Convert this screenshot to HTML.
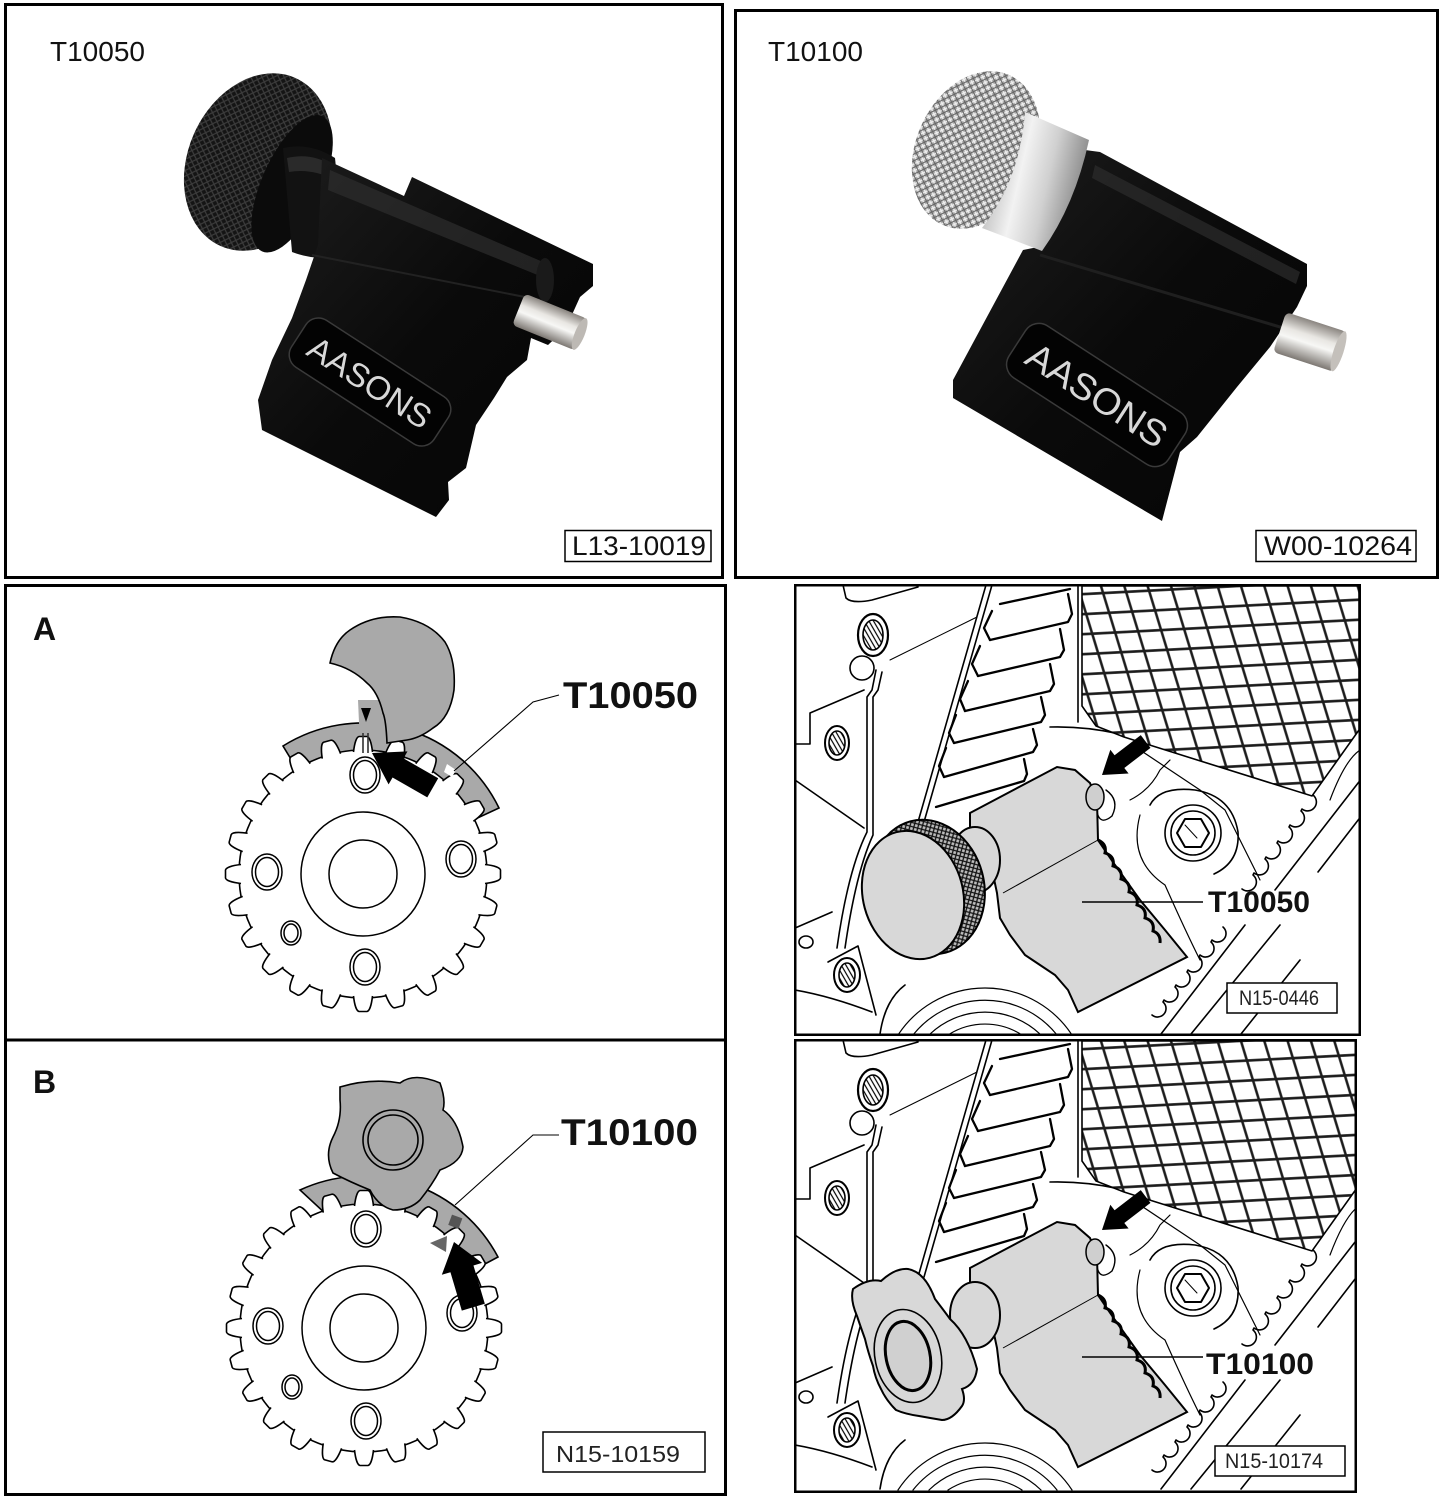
<!DOCTYPE html>
<html>
<head>
<meta charset="utf-8">
<style>
html,body{margin:0;padding:0;background:#fff;width:1443px;height:1500px;overflow:hidden;}
svg{display:block;}
text{font-family:"Liberation Sans",Arial,sans-serif;}
</style>
</head>
<body>
<svg width="1443" height="1500" viewBox="0 0 1443 1500" xmlns="http://www.w3.org/2000/svg">
<defs>
  <pattern id="mesh" width="23" height="20" patternUnits="userSpaceOnUse" patternTransform="rotate(-3) skewX(14)">
    <rect width="23" height="20" fill="#fff"/>
    <path d="M0,10H23M11.5,0V20" stroke="#1c1c1c" stroke-width="2.6" fill="none"/>
  </pattern>
  <pattern id="knurlB" width="5" height="5" patternUnits="userSpaceOnUse" patternTransform="rotate(40)">
    <rect width="5" height="5" fill="#141414"/>
    <path d="M0,2.5H5M2.5,0V5" stroke="#3c3c3c" stroke-width="1.2"/>
  </pattern>
  <pattern id="knurlS" width="6" height="6" patternUnits="userSpaceOnUse" patternTransform="rotate(40)">
    <rect width="6" height="6" fill="#a8a8a8"/>
    <path d="M0,1.5H6M1.5,0V6" stroke="#eeeeee" stroke-width="1.4"/>
    <path d="M0,4.5H6M4.5,0V6" stroke="#666" stroke-width="1.1"/>
  </pattern>
  <pattern id="knurlD" width="4" height="4" patternUnits="userSpaceOnUse" patternTransform="rotate(30)">
    <rect width="4" height="4" fill="#bdbdbd"/>
    <path d="M0,2H4M2,0V4" stroke="#111" stroke-width="1.3"/>
  </pattern>
  <pattern id="hatch" width="4" height="4" patternUnits="userSpaceOnUse" patternTransform="rotate(60)">
    <rect width="4" height="4" fill="#fff"/>
    <path d="M0,2H4" stroke="#000" stroke-width="1.2"/>
  </pattern>
  <linearGradient id="silverV" x1="0" y1="0" x2="0" y2="1">
    <stop offset="0" stop-color="#8a8580"/>
    <stop offset="0.35" stop-color="#e8e6e2"/>
    <stop offset="0.55" stop-color="#f7f7f5"/>
    <stop offset="1" stop-color="#7d7873"/>
  </linearGradient>
  <linearGradient id="ringG" x1="0" y1="0" x2="1" y2="0.3">
    <stop offset="0" stop-color="#9a9a9a"/>
    <stop offset="0.45" stop-color="#f2f2f2"/>
    <stop offset="0.7" stop-color="#d0d0d0"/>
    <stop offset="1" stop-color="#8c8c8c"/>
  </linearGradient>
  <linearGradient id="blkG" x1="0" y1="0" x2="1" y2="1">
    <stop offset="0" stop-color="#1e1e1e"/>
    <stop offset="0.5" stop-color="#0a0a0a"/>
    <stop offset="1" stop-color="#050505"/>
  </linearGradient>

  <path id="tooth" d="M-9.5,-122 C-8.5,-131 -6.5,-137 -4,-137.5 L4,-137.5 C6.5,-137 8.5,-131 9.5,-122" fill="#fff" stroke="#000" stroke-width="1.6"/>
  <g id="teeth6">
    <use href="#tooth"/>
    <use href="#tooth" transform="rotate(15)"/>
    <use href="#tooth" transform="rotate(30)"/>
    <use href="#tooth" transform="rotate(45)"/>
    <use href="#tooth" transform="rotate(60)"/>
    <use href="#tooth" transform="rotate(75)"/>
  </g>
  <g id="gear">
    <circle r="124" fill="#fff" stroke="#000" stroke-width="1.6"/>
    <use href="#teeth6"/>
    <use href="#teeth6" transform="rotate(90)"/>
    <use href="#teeth6" transform="rotate(180)"/>
    <use href="#teeth6" transform="rotate(270)"/>
    <g fill="none" stroke="#000" stroke-width="1.5">
      <circle r="62"/>
      <ellipse rx="34" ry="34"/>
      <ellipse cx="2" cy="-99" rx="15" ry="18"/><ellipse cx="2" cy="-99" rx="11.5" ry="14.5"/>
      <ellipse cx="-96" cy="-2" rx="15" ry="18"/><ellipse cx="-96" cy="-2" rx="11.5" ry="14.5"/>
      <ellipse cx="98" cy="-15" rx="15" ry="18"/><ellipse cx="98" cy="-15" rx="11.5" ry="14.5"/>
      <ellipse cx="-72" cy="59" rx="10" ry="12"/><ellipse cx="-72" cy="59" rx="7" ry="9"/>
      <ellipse cx="2" cy="93" rx="15" ry="18"/><ellipse cx="2" cy="93" rx="11.5" ry="14.5"/>
    </g>
  </g>

  <clipPath id="cp1"><rect x="796" y="586" width="563" height="448"/></clipPath>
  <clipPath id="cp2"><rect x="796" y="1041" width="559" height="450"/></clipPath>

  <g id="eng">
    <g fill="none" stroke="#000" stroke-width="1.6" stroke-linejoin="round" stroke-linecap="round">
      <g stroke-width="1.2">
        <path d="M948,1035 A68,68 0 0,1 1022,1035"/>
        <path d="M929,1035 A80,80 0 0,1 1041,1035"/>
        <path d="M913,1035 A92,92 0 0,1 1057,1035"/>
        <path d="M898,1035 A104,104 0 0,1 1072,1035"/>
      </g>
      <path d="M843,585 L846,598 Q852,604 872,600 L918,587"/>
      <ellipse cx="873" cy="635" rx="15" ry="21" stroke-width="2.2"/>
      <ellipse cx="873" cy="635" rx="10" ry="15" fill="url(#hatch)"/>
      <circle cx="862" cy="668" r="12"/>
      <path d="M890,660 L977,617" stroke-width="1"/>
      <path d="M876,670 L872,690 L867,697 L867,832 Q848,870 837,948"/>
      <path d="M882,672 L878,690 L873,697 L873,835 Q856,872 845,948"/>
      <path d="M795,744 L810,744 L810,713 L864,690"/>
      <path d="M795,780 L864,828"/>
      <ellipse cx="837" cy="743" rx="12" ry="17" stroke-width="2"/>
      <ellipse cx="837" cy="743" rx="8" ry="12" fill="url(#hatch)"/>
      <path d="M795,928 L832,912"/>
      <ellipse cx="806" cy="942" rx="7" ry="6"/>
      <ellipse cx="847" cy="975" rx="13" ry="17" stroke-width="2"/>
      <ellipse cx="847" cy="975" rx="8" ry="12" fill="url(#hatch)"/>
      <path d="M828,962 L858,946 L876,1015"/>
      <path d="M795,990 Q830,996 872,1012"/>
      <path d="M880,1034 Q885,1000 905,985"/>
      <path d="M992,585 L924,822"/>
      <path d="M986,585 L918,822"/>
      <g stroke-width="2.3">
        <path d="M1000,604 L1070,589"/>
        <path d="M990,640 L1068,622 L1072,614 L1068,594"/>
        <path d="M978,676 L1060,657 L1064,650 L1060,629"/>
        <path d="M965,711 L1050,691 L1054,684 L1050,664"/>
        <path d="M954,743 L1041,722 L1045,715 L1041,697"/>
        <path d="M944,777 L1033,752 L1037,745 L1033,729"/>
        <path d="M936,807 L1024,781 L1027,774 L1024,759"/>
        <path d="M990,640 L984,628 L992,611"/>
        <path d="M978,676 L972,664 L980,646"/>
        <path d="M965,711 L960,699 L968,681"/>
        <path d="M954,743 L949,733 L956,715"/>
        <path d="M944,777 L939,766 L946,748"/>
      </g>
      <path d="M1078,585 L1078,722"/>
      <path d="M1050,727 Q1085,726 1120,734"/>
      <path d="M1313,795 a7,7 0 0,1 -11,14 l-1,2 a7,7 0 0,1 -11,14 l-1,2 a7,7 0 0,1 -11,14 l-1,2 a7,7 0 0,1 -11,14 l-1,2 a7,7 0 0,1 -11,14 l-1,2 a7,7 0 0,1 -11,14"/>
      <path d="M1223,927 a7,7 0 0,1 -11,13 l-1,2 a7,7 0 0,1 -11,13 l-1,2 a7,7 0 0,1 -11,13 l-1,2 a7,7 0 0,1 -11,13 l-1,2 a7,7 0 0,1 -11,13 l-1,2 a7,7 0 0,1 -11,13"/>
      <path d="M1362,778 L1275,890"/>
      <path d="M1362,815 L1318,872"/>
      <path d="M1280,925 L1191,1034"/>
      <path d="M1300,960 L1241,1034"/>
      <path d="M1245,925 L1161,1034"/>
      <path d="M1150,805 Q1160,786 1195,790 Q1232,796 1238,832 Q1240,862 1214,874"/>
      <path d="M1140,815 Q1128,860 1165,885 Q1185,930 1200,960" stroke-width="1.2"/>
      <path d="M1130,800 Q1150,790 1160,770 L1170,760" stroke-width="1.2"/>
      <path d="M1140,750 L1200,790 L1225,810 L1260,880" stroke-width="1.2"/>
      <path d="M1330,800 Q1345,760 1360,750" stroke-width="1.2"/>
      <circle cx="1193" cy="833" r="28"/>
      <circle cx="1193" cy="833" r="22"/>
      <polygon points="1209,833 1201,847 1185,847 1177,833 1185,819 1201,819" stroke-width="2"/>
      <path d="M1185,825 L1197,838" stroke-width="1"/>
      <path d="M1106,790 Q1120,800 1112,816 Q1100,826 1097,812" stroke-width="1.4"/>
    </g>
    <polygon points="1082,586 1359,586 1359,730 1312,796 1124,737 1096,726 1082,706" fill="url(#mesh)" stroke="#000" stroke-width="1.6"/>
    <path d="M970,813 L1057,767 L1075,770 L1090,783 L1097,800 L1098,840 L1115,865 L1140,900 L1165,930 L1187,957 L1078,1012 L1068,990 L1055,975 L1040,965 L1025,955 L1010,935 L1000,918 L997,893 L990,860 L970,835 Z" fill="#d8d8d8" stroke="#000" stroke-width="2"/>
    <path d="M1098,840 q9,4 7,13 q10,3 8,13 q10,3 8,13 q10,3 8,13 q10,3 8,13 q10,3 8,13 q10,3 8,13 q8,3 7,12" fill="none" stroke="#000" stroke-width="3"/>
    <path d="M1003,893 L1098,840" stroke="#000" stroke-width="1" fill="none"/>
    <ellipse cx="975" cy="860" rx="25" ry="33" fill="#d8d8d8" stroke="#000" stroke-width="2"/>
    <ellipse cx="1095" cy="797" rx="9" ry="13" fill="#cfcfcf" stroke="#000" stroke-width="1.5"/>
    <polygon transform="translate(1102,775) rotate(-37.5)" points="0,0 22,-15 22,-8 55,-8 55,8 22,8 22,15" fill="#000"/>
    <path d="M1082,902 L1203,902" stroke="#000" stroke-width="1.6"/>
  </g>
</defs>

<!-- ===== TOP LEFT PHOTO PANEL ===== -->
<rect x="5.5" y="4.5" width="717" height="573" fill="#fff" stroke="#000" stroke-width="3"/>
<text x="50" y="61" font-size="28" fill="#111">T10050</text>
<g transform="rotate(24 258 162)">
  <ellipse cx="258" cy="162" rx="70" ry="92" fill="url(#knurlB)"/>
  <ellipse cx="298" cy="168" rx="30" ry="74" fill="#0b0b0b"/>
</g>
<path d="M283,148 Q310,142 335,158 L345,255 Q318,262 292,252 Z" fill="#121212"/>
<path d="M287,158 Q312,152 333,166 L335,180 Q312,168 289,172 Z" fill="#2a2a2a"/>
<path d="M322,158 L404,196 L412,177 L593,264 L593,286 L580,297 L566,328 L548,345 L531,338 L527,360 L507,377 L494,398 L476,425 L466,468 L448,482 L449,500 L436,517 L262,430 L258,400 L272,360 L292,318 L306,280 L318,245 Z" fill="url(#blkG)"/>
<path d="M330,170 L543,262 L540,276 L328,190 Z" fill="#2e2e2e" opacity="0.7"/>
<path d="M312,255 L540,300" stroke="#222" stroke-width="2" fill="none"/>
<ellipse cx="545" cy="280" rx="9" ry="22" fill="#1a1a1a"/>
<g transform="translate(550,322) rotate(22)">
  <rect x="-34" y="-17" width="68" height="34" rx="5" fill="url(#silverV)"/>
  <ellipse cx="32" cy="0" rx="5" ry="17" fill="#bdb9b4"/>
</g>
<g transform="translate(370,382) rotate(33)">
  <rect x="-85" y="-28" width="170" height="56" rx="15" fill="#030303" stroke="#3a3a3a" stroke-width="1.5"/>
  <text x="0" y="12" font-size="33" fill="#d8d8d8" text-anchor="middle" textLength="140" lengthAdjust="spacingAndGlyphs">AASONS</text>
</g>
<rect x="565" y="530.5" width="146" height="31" fill="#fff" stroke="#000" stroke-width="1.5"/>
<text x="572" y="555" font-size="27" fill="#111" textLength="134" lengthAdjust="spacingAndGlyphs">L13-10019</text>

<!-- ===== TOP RIGHT PHOTO PANEL ===== -->
<rect x="735.5" y="10.5" width="702" height="567" fill="#fff" stroke="#000" stroke-width="3"/>
<text x="768" y="61" font-size="28" fill="#111">T10100</text>
<path d="M1085,150 L1100,152 L1307,264 L1307,286 L1297,307 L1270,347 L1237,387 L1197,437 L1180,452 L1162,521 L953,398 L953,380 L1023,250 L1043,246 Z" fill="url(#blkG)"/>
<path d="M1095,165 L1300,272 L1296,284 L1092,178 Z" fill="#2c2c2c" opacity="0.7"/>
<path d="M1040,255 L1290,330" stroke="#1f1f1f" stroke-width="3" fill="none"/>
<ellipse cx="976" cy="150" rx="60" ry="82" transform="rotate(24 976 150)" fill="url(#knurlS)"/>
<path d="M1025,112 L1089,140 Q1075,205 1042,251 L982,228 Q1020,180 1025,112 Z" fill="url(#ringG)"/>
<g transform="translate(1310,342) rotate(18)">
  <rect x="-32" y="-21" width="64" height="42" rx="5" fill="url(#silverV)"/>
  <ellipse cx="30" cy="0" rx="5" ry="21" fill="#c4c0bb"/>
</g>
<g transform="translate(1097,395) rotate(33)">
  <rect x="-95" y="-31" width="190" height="62" rx="16" fill="#030303" stroke="#3a3a3a" stroke-width="1.5"/>
  <text x="0" y="13" font-size="37" fill="#d8d8d8" text-anchor="middle" textLength="160" lengthAdjust="spacingAndGlyphs">AASONS</text>
</g>
<rect x="1256" y="530.5" width="160" height="31" fill="#fff" stroke="#000" stroke-width="1.5"/>
<text x="1264" y="555" font-size="27" fill="#111" textLength="148" lengthAdjust="spacingAndGlyphs">W00-10264</text>

<!-- ===== BOTTOM LEFT: A / B ===== -->
<rect x="5.5" y="585.5" width="720" height="909" fill="#fff" stroke="#000" stroke-width="3"/>
<line x1="5" y1="1040" x2="726" y2="1040" stroke="#000" stroke-width="3"/>

<text x="33" y="640" font-size="32" font-weight="bold" fill="#111">A</text>
<path d="M283,746 A151,151 0 0,1 499,808 L469,822 A118,118 0 0,0 300,774 Z" fill="#a9a9a9" stroke="#000" stroke-width="1.6"/>
<path d="M358,700 L386,700 L390,745 L360,745 Z" fill="#a9a9a9"/>
<use href="#gear" x="363" y="874"/>
<path d="M330,663 Q335,640 350,630 Q372,615 400,617 Q430,622 445,642 Q456,660 454,690 Q450,718 433,728 Q420,738 407,740 L387,743 Q386,720 383,713 Q378,692 367,683 Q352,668 330,663 Z" fill="#a9a9a9" stroke="#000" stroke-width="1.6"/>
<polygon points="361,708 371,708 366,722" fill="#000"/>
<path d="M363,733 L363,753 M368,733 L368,753" stroke="#333" stroke-width="1.6"/>
<polygon transform="translate(372,753) rotate(29.8)" points="0,0 30,-19 30,-11 70,-11 70,11 30,11 30,19" fill="#000"/>
<path d="M447,764 L456,770 L452,777 L444,772 Z" fill="#fff"/>
<path d="M559,695 L533,702 L454,771" stroke="#000" stroke-width="1.1" fill="none"/>
<text x="563" y="708" font-size="37" font-weight="bold" fill="#111" textLength="135" lengthAdjust="spacingAndGlyphs">T10050</text>

<text x="33" y="1093" font-size="32" font-weight="bold" fill="#111">B</text>
<path d="M300,1190 A152,152 0 0,1 498,1257 L468,1273 A118,118 0 0,0 328,1216 Z" fill="#a9a9a9" stroke="#000" stroke-width="1.6"/>
<use href="#gear" x="364" y="1328"/>
<path d="M340,1087 Q370,1078 400,1083 Q414,1072 440,1083 Q446,1100 443,1110 Q458,1120 463,1147 Q462,1162 440,1170 Q432,1185 420,1200 Q410,1210 393,1210 Q378,1206 370,1190 Q350,1182 333,1173 Q324,1155 333,1137 Q342,1120 340,1100 Z" fill="#a9a9a9" stroke="#000" stroke-width="1.6"/>
<circle cx="393" cy="1140" r="30" fill="none" stroke="#000" stroke-width="1.6"/>
<circle cx="393" cy="1140" r="25" fill="none" stroke="#000" stroke-width="1.6"/>
<rect x="450" y="1216" width="11" height="11" fill="#555" transform="rotate(20 455 1221)"/>
<polygon points="430,1243 447,1236 446,1252" fill="#666"/>
<polygon transform="translate(454,1242) rotate(73.5)" points="0,0 28,-21 28,-12 68,-12 68,12 28,12 28,21" fill="#000"/>
<path d="M559,1135 L533,1135 L455,1205" stroke="#000" stroke-width="1.1" fill="none"/>
<text x="561" y="1145" font-size="37" font-weight="bold" fill="#111" textLength="137" lengthAdjust="spacingAndGlyphs">T10100</text>
<rect x="543" y="1432" width="162" height="40" fill="#fff" stroke="#000" stroke-width="1.5"/>
<text x="556" y="1462" font-size="23" fill="#222" textLength="124" lengthAdjust="spacingAndGlyphs">N15-10159</text>

<!-- ===== BOTTOM RIGHT PANEL 1 ===== -->
<rect x="795" y="585" width="565" height="450" fill="#fff"/>
<g clip-path="url(#cp1)">
  <use href="#eng"/>
  <ellipse cx="928" cy="887" rx="56" ry="68" transform="rotate(-15 928 887)" fill="url(#knurlD)" stroke="#000" stroke-width="2"/>
  <ellipse cx="913" cy="895" rx="50" ry="65" transform="rotate(-15 913 895)" fill="#d8d8d8" stroke="#000" stroke-width="2"/>
</g>
<rect x="795.25" y="585.25" width="564.5" height="449.5" fill="none" stroke="#000" stroke-width="2.5"/>
<text x="1208" y="912" font-size="30" font-weight="bold" fill="#111" textLength="102" lengthAdjust="spacingAndGlyphs">T10050</text>
<rect x="1227" y="983" width="110" height="30" fill="#fff" stroke="#000" stroke-width="1.5"/>
<text x="1239" y="1005" font-size="21" fill="#222" textLength="80" lengthAdjust="spacingAndGlyphs">N15-0446</text>

<!-- ===== BOTTOM RIGHT PANEL 2 ===== -->
<rect x="795" y="1040" width="561" height="452" fill="#fff"/>
<g clip-path="url(#cp2)">
  <use href="#eng" transform="translate(0,455)"/>
  <path d="M853,1289 Q868,1278 881,1281 Q895,1268 908,1269 Q925,1272 935,1299 Q945,1312 950,1319 Q968,1335 977,1369 Q975,1385 962,1389 Q966,1400 962,1406 Q952,1420 942,1420 Q930,1418 919,1416 Q905,1414 896,1410 Q886,1400 881,1389 Q875,1378 873,1366 Q868,1352 865,1339 Q860,1325 857,1316 Q850,1300 853,1289 Z" fill="#d8d8d8" stroke="#000" stroke-width="2"/>
  <ellipse cx="908" cy="1356" rx="33" ry="47" transform="rotate(-12 908 1356)" fill="none" stroke="#000" stroke-width="1.6"/>
  <ellipse cx="908" cy="1356" rx="22" ry="35" transform="rotate(-12 908 1356)" fill="#d0d0d0" stroke="#000" stroke-width="3"/>
</g>
<rect x="795.25" y="1040.25" width="560.5" height="451.5" fill="none" stroke="#000" stroke-width="2.5"/>
<text x="1206" y="1374" font-size="30" font-weight="bold" fill="#111" textLength="108" lengthAdjust="spacingAndGlyphs">T10100</text>
<rect x="1215" y="1446" width="130" height="30" fill="#fff" stroke="#000" stroke-width="1.5"/>
<text x="1225" y="1468" font-size="21" fill="#222" textLength="98" lengthAdjust="spacingAndGlyphs">N15-10174</text>
</svg>
</body>
</html>
